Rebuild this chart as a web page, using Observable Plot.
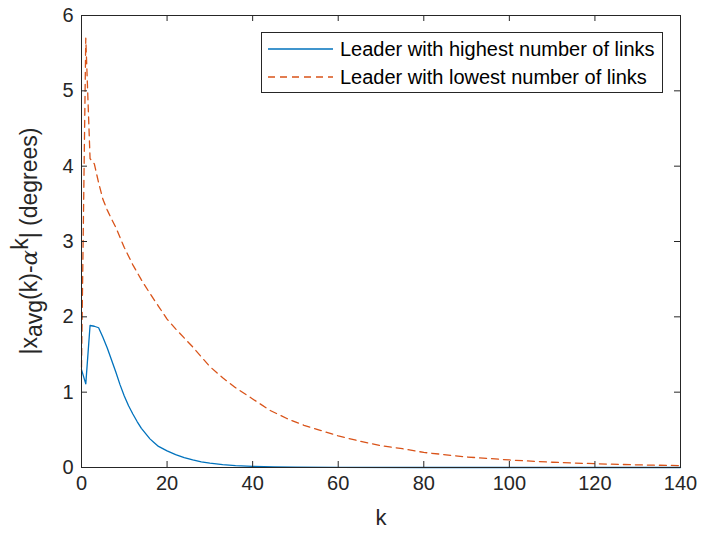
<!DOCTYPE html>
<html><head><meta charset="utf-8">
<script src="https://cdn.jsdelivr.net/npm/d3@7"></script>
<script src="https://cdn.jsdelivr.net/npm/@observablehq/plot@0.6"></script>
<style>body{margin:0;background:#fff}#chart svg{display:block}</style>
</head><body><div id="chart"></div>
<script>
// ---- data ----
const kBlue = [0,1,2,3,4,5,6,7,8,9,10,11,12,13,14,15,16,17,18,19,20,22,24,26,28,30,33,36,40,45,50,60,80,100,120,140];
const blueVals = [1.30,1.11,1.885,1.875,1.855,1.73,1.59,1.43,1.27,1.10,0.95,0.82,0.71,0.61,0.52,0.45,0.38,0.33,0.28,0.25,0.22,0.17,0.13,0.10,0.075,0.057,0.037,0.025,0.015,0.008,0.004,0.001,0,0,0,0];
const kOrange = [0,1,2,3,4,5,6,7,8,10,12,14,16,18,20,22,24,26,28,30,33,36,40,44,48,52,56,60,65,70,75,80,90,100,110,120,130,140];
const orangeVals = [1.33,5.70,4.10,4.03,3.78,3.56,3.42,3.30,3.19,2.92,2.69,2.49,2.31,2.14,1.97,1.84,1.72,1.60,1.47,1.34,1.19,1.06,0.91,0.76,0.65,0.56,0.49,0.42,0.35,0.29,0.25,0.20,0.14,0.10,0.07,0.05,0.035,0.025];
const seriesNames = ["Leader with highest number of links", "Leader with lowest number of links"];
const seriesColors = ["#0072BD", "#D95319"];
const xTicks = [0,20,40,60,80,100,120,140];
const yTicks = [0,1,2,3,4,5,6];
const xLabel = "k";

// ---- layout ----
const W = 701, H = 537, mL = 81, mR = 21, mT = 15, mB = 70;
const innerW = W - mL - mR, innerH = H - mT - mB;
const tickLen = 6;
const axisColor = "#262626";
const font = "'Liberation Sans', Arial, Helvetica, sans-serif";

const blue = kBlue.map((k, i) => ({k, v: blueVals[i]}));
const orange = kOrange.map((k, i) => ({k, v: orangeVals[i]}));

const plot = Plot.plot({
  width: W, height: H,
  marginLeft: mL, marginRight: mR, marginTop: mT, marginBottom: mB,
  style: {fontFamily: font, fontSize: "20px", color: axisColor, background: "#fff", overflow: "visible"},
  x: {domain: [0, 140]},
  y: {domain: [0, 6]},
  marks: [
    Plot.line(blue, {x: "k", y: "v", stroke: seriesColors[0], strokeWidth: 1.3}),
    Plot.line(orange, {x: "k", y: "v", stroke: seriesColors[1], strokeWidth: 1.3, strokeDasharray: "7,5"}),
    Plot.tickX(xTicks, {x: d => d, insetTop: innerH - tickLen, stroke: axisColor}),
    Plot.tickX(xTicks, {x: d => d, insetBottom: innerH - tickLen, stroke: axisColor}),
    Plot.tickY(yTicks, {y: d => d, insetRight: innerW - tickLen, stroke: axisColor}),
    Plot.tickY(yTicks, {y: d => d, insetLeft: innerW - tickLen, stroke: axisColor}),
    Plot.frame({stroke: axisColor, strokeWidth: 1}),
    Plot.axisX(xTicks, {tickSize: 0, tickPadding: 8, label: null, fontSize: 20, fill: axisColor, tickFormat: d => String(d)}),
    Plot.axisY(yTicks, {tickSize: 0, tickPadding: 8, label: null, fontSize: 20, fill: axisColor, tickFormat: d => String(d)}),
    Plot.text([xLabel], {frameAnchor: "bottom", dy: 57, fontSize: 22, fill: axisColor})
  ]
});
document.getElementById("chart").append(plot);

const svg = d3.select(plot);

// y-axis label with sub/superscripts
const yl = svg.append("text")
  .attr("transform", `translate(37,${mT + innerH / 2}) rotate(-90)`)
  .attr("text-anchor", "middle")
  .attr("font-size", 23)
  .attr("font-family", font)
  .attr("fill", axisColor);
yl.append("tspan").text("|x");
yl.append("tspan").attr("dy", 5).text("avg");
yl.append("tspan").attr("dy", -5).text("(k)-");
yl.append("tspan").attr("font-style", "italic").attr("font-family", "'DejaVu Serif', serif").text("α");
yl.append("tspan").attr("dy", -9).text("k");
yl.append("tspan").attr("dy", 9).text("| (degrees)");

// legend
const lg = svg.append("g").attr("text-anchor", "start");
lg.append("rect").attr("x", 261.5).attr("y", 32.5).attr("width", 401).attr("height", 60)
  .attr("fill", "#fff").attr("stroke", axisColor).attr("stroke-width", 1);
seriesNames.forEach((name, i) => {
  const y = 49 + i * 28;
  lg.append("line").attr("x1", 268).attr("x2", 333).attr("y1", y).attr("y2", y)
    .attr("stroke", seriesColors[i]).attr("stroke-width", 1.3)
    .attr("stroke-dasharray", i === 1 ? "7,5" : null);
  lg.append("text").attr("x", 340).attr("y", y).attr("dy", "0.35em")
    .attr("text-anchor", "start")
    .attr("font-size", 20).attr("font-family", font).attr("fill", "#000").text(name);
});
</script></body></html>
